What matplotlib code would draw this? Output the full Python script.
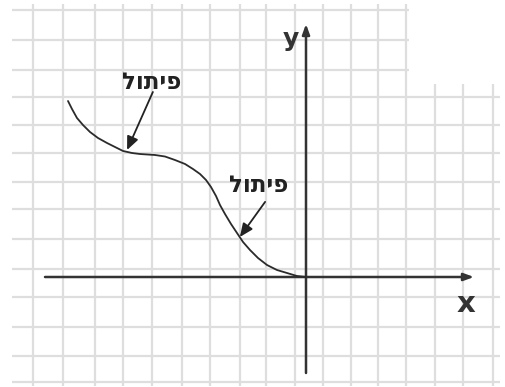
import numpy as np
import matplotlib
matplotlib.use("Agg")
import matplotlib.pyplot as plt
from matplotlib.patches import Rectangle

# ---- data (grid units, origin at the axes crossing) ----
curve_x = [-8.207, -8.069, -7.897, -7.690, -7.448, -7.172, -6.862, -6.586,
           -6.310, -6.000, -5.724, -5.207, -4.862, -4.517, -4.172, -3.897,
           -3.655, -3.448, -3.276, -3.103, -2.966, -2.793, -2.586, -2.379,
           -2.172, -1.931, -1.655, -1.345, -1.000, -0.655, -0.310, 0.0]
curve_y = [6.069, 5.793, 5.483, 5.241, 5.000, 4.793, 4.621, 4.483,
           4.345, 4.276, 4.241, 4.207, 4.155, 4.034, 3.897, 3.724,
           3.552, 3.345, 3.103, 2.793, 2.483, 2.172, 1.828, 1.517,
           1.207, 0.931, 0.655, 0.414, 0.241, 0.138, 0.034, 0.0]

label_text = "פיתול"          # inflection
label_x = [-5.31, -1.62]
label_y = [6.69, 3.17]
arrow_from_x = [-5.28, -1.41]
arrow_from_y = [6.38, 2.59]
arrow_to_x = [-6.17, -2.28]
arrow_to_y = [4.38, 1.38]

axis_labels = ["x", "y"]

PX = 29.0
OX, OY = 306.0, 277.0
W, H = 506, 387


def ux(p):
    return (p - OX) / PX


def uy(p):
    return (OY - p) / PX


fig = plt.figure(figsize=(W / 100, H / 100), dpi=100)
ax = fig.add_axes([0, 0, 1, 1])
ax.set_xlim(ux(0), ux(W))
ax.set_ylim(uy(H), uy(0))
ax.axis("off")

# graph-paper grid
vlines_px = [33, 63, 95, 123, 152, 182, 210, 240, 266, 295, 323, 351, 378,
             406, 435, 463, 493]
hlines_px = [10, 40, 70, 97, 125, 153, 182, 209, 239, 269, 297, 327, 356, 382]
gc = "#dedede"
for v in vlines_px:
    ax.plot([ux(v), ux(v)], [uy(4), uy(386)], color=gc, lw=1.6, zorder=1,
            solid_capstyle="butt")
for h in hlines_px:
    ax.plot([ux(12), ux(500)], [uy(h), uy(h)], color=gc, lw=1.6, zorder=1,
            solid_capstyle="butt")
# blank corner of the paper
ax.add_patch(Rectangle((ux(409), uy(84)), ux(506) - ux(409), uy(0) - uy(84),
                       facecolor="white", edgecolor="none", zorder=2))

ac = "#333333"
# axes with arrows
ax.annotate("", xy=(ux(474), 0), xytext=(ux(45), 0),
            arrowprops=dict(arrowstyle="-|>,head_length=0.6,head_width=0.22",
                            lw=1.8, color=ac, shrinkA=0, shrinkB=0), zorder=4)
ax.annotate("", xy=(0, uy(24)), xytext=(0, uy(373)),
            arrowprops=dict(arrowstyle="-|>,head_length=0.6,head_width=0.22",
                            lw=1.8, color=ac, shrinkA=0, shrinkB=0), zorder=4)

fam = ["DejaVu Sans", "Liberation Sans"]
ax.text(ux(466), uy(304), axis_labels[0], fontsize=21, fontweight="bold",
        color="#333333", ha="center", va="center", family=fam, zorder=5)
ax.text(ux(291), uy(39), axis_labels[1], fontsize=18, fontweight="bold",
        color="#333333", ha="center", va="center", family=fam, zorder=5)

# curve
ax.plot(curve_x, curve_y, color="#2b2b2b", lw=1.3, zorder=4,
        solid_capstyle="round", solid_joinstyle="round")

# callouts
for lx, ly, fx, fy, tx, ty in zip(label_x, label_y, arrow_from_x, arrow_from_y,
                                   arrow_to_x, arrow_to_y):
    ax.text(lx, ly, label_text[::-1], fontsize=16.5, fontweight="bold",
            color="#222222", ha="center", va="center", family=fam, zorder=5)
    ax.annotate("", xy=(tx, ty), xytext=(fx, fy),
                arrowprops=dict(arrowstyle="-|>,head_length=0.8,head_width=0.35",
                                lw=1.3, color="#222222", shrinkA=0, shrinkB=0),
                zorder=5)

fig.savefig("out.png", dpi=100, facecolor="white")
